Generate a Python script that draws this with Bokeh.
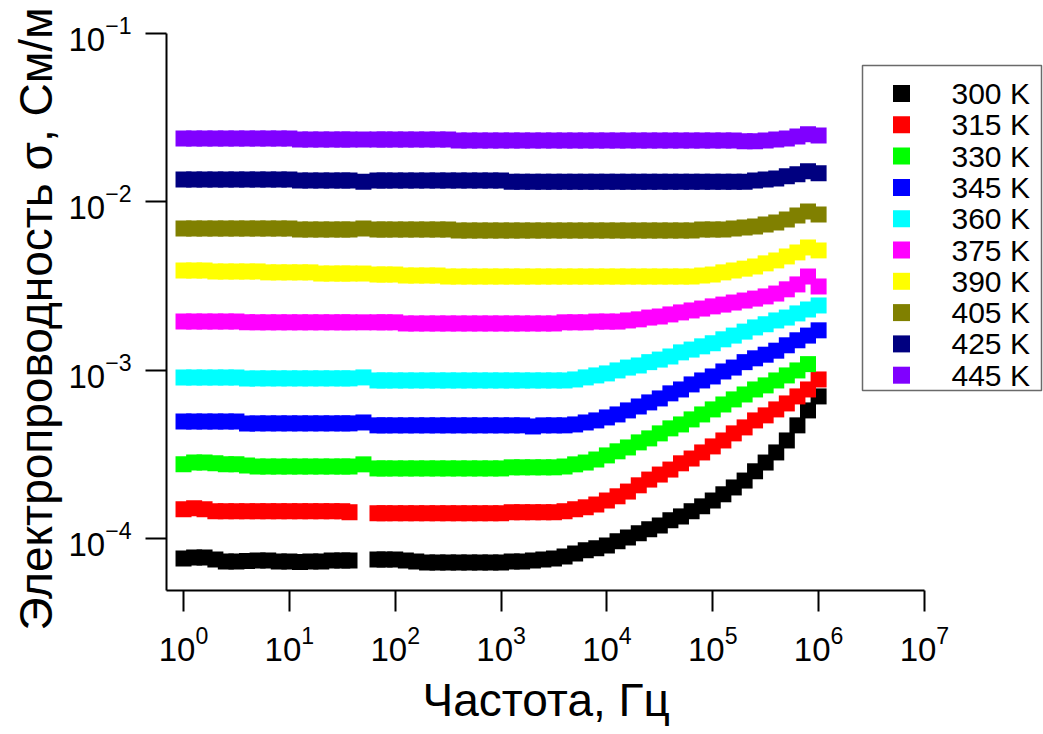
from bokeh.plotting import figure
from bokeh.models import Range1d, LinearScale, FixedTicker, ColumnDataSource, Title
from bokeh.core.properties import value
from bokeh.embed import file_html
from bokeh.resources import INLINE

NAN = float("nan")

# Measurement frequencies, Hz (50 Hz mains point is dropped for the coldest runs)
freq_hz = [
    1.0, 1.26, 1.58, 2.0, 2.51, 3.16, 3.98, 5.01, 6.31, 7.94,
    10.0, 12.6, 15.8, 20.0, 25.1, 31.6, 37.0, 50.1, 68.0, 79.4,
    100.0, 126.0, 158.0, 200.0, 251.0, 316.0, 398.0, 501.0, 631.0, 794.0,
    1.0e3, 1.26e3, 1.58e3, 2.0e3, 2.51e3, 3.16e3, 3.98e3, 5.01e3, 6.31e3, 7.94e3,
    1.0e4, 1.26e4, 1.58e4, 2.0e4, 2.51e4, 3.16e4, 3.98e4, 5.01e4, 6.31e4, 7.94e4,
    1.0e5, 1.26e5, 1.58e5, 2.0e5, 2.51e5, 3.16e5, 3.98e5, 5.01e5, 6.31e5, 7.94e5,
    1.0e6,
]

temperatures = ["300 K", "315 K", "330 K", "345 K", "360 K",
                "375 K", "390 K", "405 K", "425 K", "445 K"]
colors = ["#000000", "#FF0000", "#00FF00", "#0000FF", "#00FFFF",
          "#FF00FF", "#FFFF00", "#808000", "#000080", "#8000FF"]

# Conductivity, S/m
sigma_300K = [
    7.66e-5, 7.76e-5, 7.76e-5, 7.55e-5, 7.35e-5, 7.35e-5, 7.40e-5, 7.45e-5, 7.45e-5, 7.35e-5,
    7.35e-5, 7.30e-5, 7.35e-5, 7.35e-5, 7.45e-5, 7.45e-5, 7.45e-5, NAN, 7.55e-5, 7.55e-5,
    7.55e-5, 7.45e-5, 7.35e-5, 7.25e-5, 7.25e-5, 7.25e-5, 7.25e-5, 7.25e-5, 7.25e-5, 7.25e-5,
    7.25e-5, 7.35e-5, 7.35e-5, 7.45e-5, 7.55e-5, 7.66e-5, 7.87e-5, 8.20e-5, 8.55e-5, 8.79e-5,
    9.15e-5, 9.67e-5, 1.02e-4, 1.08e-4, 1.14e-4, 1.20e-4, 1.29e-4, 1.36e-4, 1.46e-4, 1.56e-4,
    1.69e-4, 1.84e-4, 2.02e-4, 2.22e-4, 2.52e-4, 2.84e-4, 3.26e-4, 3.84e-4, 4.72e-4, 5.79e-4,
    7.01e-4,
]
sigma_315K = [
    1.50e-4, 1.52e-4, 1.50e-4, 1.46e-4, 1.46e-4, 1.46e-4, 1.46e-4, 1.46e-4, 1.46e-4, 1.46e-4,
    1.46e-4, 1.46e-4, 1.46e-4, 1.46e-4, 1.46e-4, 1.46e-4, 1.44e-4, NAN, 1.42e-4, 1.42e-4,
    1.42e-4, 1.42e-4, 1.42e-4, 1.42e-4, 1.42e-4, 1.42e-4, 1.42e-4, 1.42e-4, 1.42e-4, 1.42e-4,
    1.42e-4, 1.44e-4, 1.44e-4, 1.44e-4, 1.44e-4, 1.44e-4, 1.46e-4, 1.50e-4, 1.54e-4, 1.60e-4,
    1.69e-4, 1.79e-4, 1.91e-4, 2.08e-4, 2.25e-4, 2.41e-4, 2.58e-4, 2.81e-4, 3.00e-4, 3.26e-4,
    3.54e-4, 3.84e-4, 4.23e-4, 4.59e-4, 5.05e-4, 5.41e-4, 5.87e-4, 6.37e-4, 7.01e-4, 7.71e-4,
    8.84e-4,
]
sigma_330K = [
    2.77e-4, 2.84e-4, 2.84e-4, 2.81e-4, 2.77e-4, 2.77e-4, 2.73e-4, 2.69e-4, 2.69e-4, 2.69e-4,
    2.69e-4, 2.69e-4, 2.69e-4, 2.69e-4, 2.69e-4, 2.69e-4, 2.69e-4, 2.77e-4, 2.62e-4, 2.62e-4,
    2.62e-4, 2.62e-4, 2.62e-4, 2.62e-4, 2.62e-4, 2.62e-4, 2.62e-4, 2.62e-4, 2.62e-4, 2.62e-4,
    2.62e-4, 2.66e-4, 2.66e-4, 2.66e-4, 2.66e-4, 2.66e-4, 2.69e-4, 2.77e-4, 2.84e-4, 2.96e-4,
    3.13e-4, 3.31e-4, 3.49e-4, 3.74e-4, 3.95e-4, 4.23e-4, 4.53e-4, 4.78e-4, 5.12e-4, 5.48e-4,
    5.87e-4, 6.28e-4, 6.73e-4, 7.20e-4, 7.71e-4, 8.15e-4, 8.72e-4, 9.34e-4, 1.00e-3, 1.09e-3,
    NAN,
]
sigma_345K = [
    4.98e-4, 4.98e-4, 4.98e-4, 4.98e-4, 4.98e-4, 4.98e-4, 4.85e-4, 4.85e-4, 4.85e-4, 4.85e-4,
    4.85e-4, 4.85e-4, 4.85e-4, 4.85e-4, 4.85e-4, 4.85e-4, 4.85e-4, 4.91e-4, 4.72e-4, 4.72e-4,
    4.72e-4, 4.72e-4, 4.72e-4, 4.72e-4, 4.72e-4, 4.72e-4, 4.72e-4, 4.72e-4, 4.72e-4, 4.72e-4,
    4.72e-4, 4.72e-4, 4.72e-4, 4.65e-4, 4.72e-4, 4.72e-4, 4.72e-4, 4.78e-4, 4.91e-4, 5.05e-4,
    5.26e-4, 5.48e-4, 5.79e-4, 6.11e-4, 6.46e-4, 6.82e-4, 7.31e-4, 7.71e-4, 8.26e-4, 8.72e-4,
    9.21e-4, 9.86e-4, 1.04e-3, 1.12e-3, 1.18e-3, 1.24e-3, 1.31e-3, 1.41e-3, 1.51e-3, 1.61e-3,
    1.73e-3,
]
sigma_360K = [
    9.09e-4, 9.09e-4, 9.09e-4, 9.09e-4, 9.09e-4, 9.09e-4, 8.97e-4, 8.97e-4, 8.97e-4, 8.97e-4,
    8.97e-4, 8.97e-4, 8.97e-4, 8.97e-4, 8.97e-4, 8.97e-4, 8.97e-4, 9.09e-4, 8.72e-4, 8.72e-4,
    8.72e-4, 8.72e-4, 8.72e-4, 8.72e-4, 8.72e-4, 8.72e-4, 8.72e-4, 8.72e-4, 8.72e-4, 8.72e-4,
    8.72e-4, 8.72e-4, 8.72e-4, 8.72e-4, 8.72e-4, 8.72e-4, 8.72e-4, 8.84e-4, 9.09e-4, 9.34e-4,
    9.60e-4, 1.00e-3, 1.04e-3, 1.07e-3, 1.12e-3, 1.16e-3, 1.21e-3, 1.28e-3, 1.33e-3, 1.39e-3,
    1.45e-3, 1.53e-3, 1.61e-3, 1.70e-3, 1.80e-3, 1.88e-3, 1.98e-3, 2.06e-3, 2.18e-3, 2.30e-3,
    2.43e-3,
]
sigma_375K = [
    1.95e-3, 1.95e-3, 1.95e-3, 1.95e-3, 1.95e-3, 1.95e-3, 1.93e-3, 1.93e-3, 1.93e-3, 1.93e-3,
    1.93e-3, 1.93e-3, 1.93e-3, 1.93e-3, 1.93e-3, 1.93e-3, 1.93e-3, 1.93e-3, 1.93e-3, 1.93e-3,
    1.93e-3, 1.90e-3, 1.90e-3, 1.90e-3, 1.90e-3, 1.90e-3, 1.90e-3, 1.90e-3, 1.90e-3, 1.90e-3,
    1.90e-3, 1.90e-3, 1.90e-3, 1.90e-3, 1.90e-3, 1.90e-3, 1.93e-3, 1.93e-3, 1.93e-3, 1.95e-3,
    1.95e-3, 1.95e-3, 1.98e-3, 2.01e-3, 2.06e-3, 2.09e-3, 2.15e-3, 2.21e-3, 2.27e-3, 2.33e-3,
    2.40e-3, 2.46e-3, 2.53e-3, 2.60e-3, 2.67e-3, 2.75e-3, 2.86e-3, 3.03e-3, 3.24e-3, 3.61e-3,
    3.15e-3,
]
sigma_390K = [
    3.92e-3, 3.92e-3, 3.92e-3, 3.87e-3, 3.87e-3, 3.87e-3, 3.87e-3, 3.87e-3, 3.82e-3, 3.82e-3,
    3.82e-3, 3.82e-3, 3.82e-3, 3.76e-3, 3.76e-3, 3.76e-3, 3.76e-3, 3.76e-3, 3.71e-3, 3.71e-3,
    3.71e-3, 3.66e-3, 3.66e-3, 3.66e-3, 3.66e-3, 3.61e-3, 3.61e-3, 3.61e-3, 3.61e-3, 3.61e-3,
    3.61e-3, 3.61e-3, 3.61e-3, 3.61e-3, 3.61e-3, 3.61e-3, 3.61e-3, 3.61e-3, 3.61e-3, 3.61e-3,
    3.61e-3, 3.61e-3, 3.61e-3, 3.61e-3, 3.61e-3, 3.61e-3, 3.61e-3, 3.61e-3, 3.61e-3, 3.66e-3,
    3.71e-3, 3.82e-3, 3.92e-3, 4.02e-3, 4.14e-3, 4.32e-3, 4.50e-3, 4.75e-3, 5.02e-3, 5.37e-3,
    5.16e-3,
]
sigma_405K = [
    6.96e-3, 6.96e-3, 6.96e-3, 6.96e-3, 6.96e-3, 6.96e-3, 6.96e-3, 6.96e-3, 6.96e-3, 6.96e-3,
    6.96e-3, 6.87e-3, 6.87e-3, 6.87e-3, 6.87e-3, 6.87e-3, 6.87e-3, 6.96e-3, 6.87e-3, 6.87e-3,
    6.87e-3, 6.87e-3, 6.87e-3, 6.87e-3, 6.87e-3, 6.87e-3, 6.78e-3, 6.78e-3, 6.78e-3, 6.78e-3,
    6.78e-3, 6.78e-3, 6.78e-3, 6.78e-3, 6.78e-3, 6.78e-3, 6.78e-3, 6.78e-3, 6.78e-3, 6.78e-3,
    6.78e-3, 6.78e-3, 6.78e-3, 6.78e-3, 6.78e-3, 6.78e-3, 6.78e-3, 6.78e-3, 6.78e-3, 6.87e-3,
    6.87e-3, 6.87e-3, 6.96e-3, 7.06e-3, 7.16e-3, 7.35e-3, 7.55e-3, 7.87e-3, 8.32e-3, 8.79e-3,
    8.43e-3,
]
sigma_425K = [
    1.36e-2, 1.36e-2, 1.36e-2, 1.36e-2, 1.36e-2, 1.36e-2, 1.36e-2, 1.36e-2, 1.36e-2, 1.36e-2,
    1.36e-2, 1.34e-2, 1.34e-2, 1.34e-2, 1.34e-2, 1.34e-2, 1.34e-2, 1.32e-2, 1.34e-2, 1.34e-2,
    1.34e-2, 1.34e-2, 1.34e-2, 1.34e-2, 1.34e-2, 1.34e-2, 1.34e-2, 1.34e-2, 1.34e-2, 1.34e-2,
    1.34e-2, 1.32e-2, 1.32e-2, 1.32e-2, 1.32e-2, 1.32e-2, 1.32e-2, 1.32e-2, 1.32e-2, 1.32e-2,
    1.32e-2, 1.32e-2, 1.32e-2, 1.32e-2, 1.32e-2, 1.32e-2, 1.32e-2, 1.32e-2, 1.32e-2, 1.32e-2,
    1.32e-2, 1.32e-2, 1.32e-2, 1.32e-2, 1.34e-2, 1.36e-2, 1.38e-2, 1.42e-2, 1.46e-2, 1.52e-2,
    1.48e-2,
]
sigma_445K = [
    2.38e-2, 2.38e-2, 2.38e-2, 2.38e-2, 2.38e-2, 2.38e-2, 2.38e-2, 2.38e-2, 2.38e-2, 2.38e-2,
    2.38e-2, 2.35e-2, 2.35e-2, 2.35e-2, 2.35e-2, 2.35e-2, 2.35e-2, 2.35e-2, 2.35e-2, 2.35e-2,
    2.35e-2, 2.35e-2, 2.35e-2, 2.35e-2, 2.35e-2, 2.35e-2, 2.32e-2, 2.32e-2, 2.32e-2, 2.32e-2,
    2.32e-2, 2.32e-2, 2.32e-2, 2.32e-2, 2.32e-2, 2.32e-2, 2.32e-2, 2.32e-2, 2.32e-2, 2.32e-2,
    2.32e-2, 2.32e-2, 2.32e-2, 2.32e-2, 2.32e-2, 2.32e-2, 2.32e-2, 2.32e-2, 2.32e-2, 2.32e-2,
    2.32e-2, 2.32e-2, 2.32e-2, 2.29e-2, 2.29e-2, 2.32e-2, 2.35e-2, 2.38e-2, 2.45e-2, 2.52e-2,
    2.48e-2,
]

series = [sigma_300K, sigma_315K, sigma_330K, sigma_345K, sigma_360K,
          sigma_375K, sigma_390K, sigma_405K, sigma_425K, sigma_445K]

x_ticks = [1e0, 1e1, 1e2, 1e3, 1e4, 1e5, 1e6, 1e7]
y_ticks = [1e-4, 1e-3, 1e-2, 1e-1]

x_title = "Частота, Гц"
y_title = "Электропроводность σ, См/м"

FONT = "Liberation Sans"

p = figure(
    width=1043, height=734,
    x_axis_type="log", y_axis_type="log",
    x_range=Range1d(0.6905, 1.333e8),
    y_range=Range1d(4.94e-5, 0.1),
    min_border_left=166, min_border_right=0, min_border_top=33, min_border_bottom=144,
    output_backend="svg", toolbar_location=None,
)
p.outline_line_color = None
p.grid.visible = False
p.background_fill_color = "white"
p.border_fill_color = "white"

p.xaxis.ticker = FixedTicker(ticks=x_ticks)
p.yaxis.ticker = FixedTicker(ticks=y_ticks)
# the frequency axis line stops at its last decade; the frame runs on under the legend
p.xaxis.bounds = (0.6905, 1e7)

for ax in (p.xaxis, p.yaxis):
    ax.axis_line_width = 2
    ax.axis_line_color = "black"
    ax.major_tick_line_width = 2
    ax.major_tick_line_color = "black"
    ax.major_tick_out = 21
    ax.major_tick_in = 0
    ax.minor_tick_line_color = None
    ax.major_label_text_font = FONT
    ax.major_label_text_font_size = "33px"
    ax.major_label_text_color = "black"

p.xaxis.major_label_standoff = 14
p.yaxis.major_label_standoff = 14

# axis titles as side-panel titles, so they can sit off the frame centre
p.add_layout(Title(text=x_title, text_font=FONT, text_font_size="46px",
                   text_font_style="normal", text_color="black",
                   align="left", offset=256, standoff=16), "below")
p.add_layout(Title(text=y_title, text_font=FONT, text_font_size="46px",
                   text_font_style="normal", text_color="black",
                   align="left", offset=-40, standoff=8), "left")

# data: one square marker per measured frequency
for sig, col in zip(series, colors):
    src = ColumnDataSource(dict(f=freq_hz, s=sig))
    p.scatter("f", "s", source=src, marker="square", size=16,
              fill_color=col, line_color=None)

# legend drawn in pixel offsets from the frame's top-left corner
p.extra_x_ranges = {"legend_x": Range1d(0, 877)}
p.extra_y_ranges = {"legend_y": Range1d(557, 0)}
p.extra_x_scales = {"legend_x": LinearScale()}
p.extra_y_scales = {"legend_y": LinearScale()}

box_left, box_right, box_top, box_bottom = 696, 875, 32, 357
row0, row_step = 60, 31.3
p.quad(left=[box_left], right=[box_right], top=[box_top], bottom=[box_bottom],
       fill_color="white", line_color="#6a6a6a", line_width=1.5,
       x_range_name="legend_x", y_range_name="legend_y")
rows_y = [row0 + i * row_step for i in range(len(temperatures))]
p.scatter(x=[735] * len(temperatures), y=rows_y, marker="square", size=17,
          fill_color=colors, line_color=None,
          x_range_name="legend_x", y_range_name="legend_y")
p.text(x=[785] * len(temperatures), y=rows_y, text=temperatures,
       text_font=value(FONT), text_font_size="30px", text_color="black",
       text_baseline="middle", text_align="left",
       x_range_name="legend_x", y_range_name="legend_y")

open("out.html", "w").write(file_html(p, INLINE))
